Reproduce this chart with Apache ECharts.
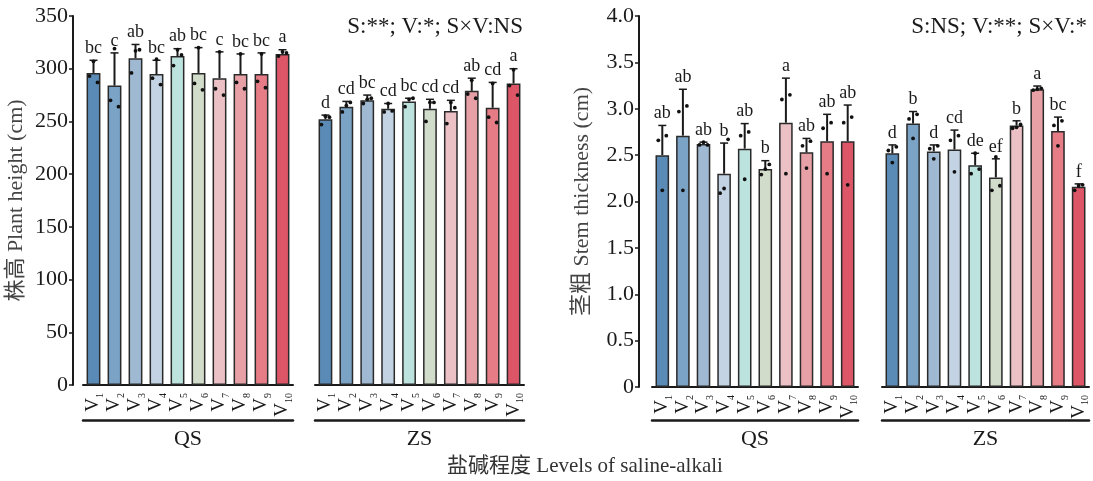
<!DOCTYPE html>
<html>
<head>
<meta charset="utf-8">
<script src="https://cdn.jsdelivr.net/npm/echarts@6.0.0/dist/echarts.min.js"></script>
<style>
  html, body { margin: 0; padding: 0; background: #fff; }
  #chart { width: 1093px; height: 481px; }
</style>
</head>
<body>
<div id="chart"></div>
<script>
// 品种 V1..V10,两种盐碱程度 QS / ZS
const CATS = ['V1', 'V2', 'V3', 'V4', 'V5', 'V6', 'V7', 'V8', 'V9', 'V10'];
const GROUPS = ['QS', 'ZS'];
const BAR_COLORS = ['#5a8bb6', '#7aa3c6', '#9fb9d3', '#c3d3e3', '#bde3df',
                    '#d2dcca', '#ecc1c6', '#e8a0a7', '#e67c86', '#dd5668'];

// 株高 Plant height (cm)
const QS_HEIGHT = [296, 284, 310, 295, 312, 296, 291, 295, 295, 314];
const QS_HEIGHT_SD = [12, 31, 13, 13, 7, 24, 25, 19, 20, 4];
const QS_HEIGHT_PTS = [[307, 293, 287], [319, 270, 264], [317, 296, 318], [309, 291, 285], [318, 303, 313],
                       [320, 286, 280], [316, 281, 275], [314, 287, 281], [314, 288, 282], [316, 312, 315]];
const QS_HEIGHT_LET = ['bc', 'c', 'ab', 'bc', 'ab', 'bc', 'c', 'bc', 'bc', 'a'];

const ZS_HEIGHT = [252, 264, 270, 262, 269, 262, 260, 279, 263, 286];
const ZS_HEIGHT_SD = [4, 5, 5, 5, 3, 9, 10, 12, 24, 14];
const ZS_HEIGHT_PTS = [[255, 247, 254], [265, 259, 268], [271, 267, 272], [267, 259, 260], [271, 264, 272],
                       [268, 250, 268], [268, 248, 263], [289, 276, 272], [286, 254, 249], [299, 284, 275]];
const ZS_HEIGHT_LET = ['d', 'cd', 'bc', 'cd', 'bc', 'cd', 'cd', 'ab', 'cd', 'a'];

// 茎粗 Stem thickness (cm)
const QS_STEM = [2.50, 2.71, 2.62, 2.30, 2.57, 2.35, 2.85, 2.53, 2.65, 2.65];
const QS_STEM_SD = [0.32, 0.50, 0.02, 0.33, 0.27, 0.09, 0.48, 0.15, 0.29, 0.39];
const QS_STEM_PTS = [[2.12, 2.66, 2.71], [2.12, 2.97, 3.03], [2.64, 2.61, 2.61], [2.14, 2.09, 2.67], [2.24, 2.71, 2.75],
                     [2.35, 2.29, 2.40], [2.30, 3.10, 3.15], [2.36, 2.60, 2.65], [2.30, 2.79, 2.85], [2.18, 2.85, 2.91]];
const QS_STEM_LET = ['ab', 'ab', 'ab', 'b', 'ab', 'b', 'a', 'ab', 'ab', 'ab'];

const ZS_STEM = [2.52, 2.84, 2.54, 2.56, 2.39, 2.26, 2.82, 3.21, 2.76, 2.16];
const ZS_STEM_SD = [0.09, 0.13, 0.07, 0.21, 0.13, 0.20, 0.05, 0.035, 0.15, 0.03];
const ZS_STEM_PTS = [[2.42, 2.55, 2.59], [2.68, 2.89, 2.94], [2.46, 2.57, 2.60], [2.32, 2.66, 2.71], [2.52, 2.30, 2.35],
                     [2.48, 2.12, 2.17], [2.80, 2.79, 2.83], [3.21, 3.20, 3.22], [2.60, 2.82, 2.87], [2.17, 2.12, 2.18]];
const ZS_STEM_LET = ['d', 'b', 'd', 'cd', 'de', 'ef', 'b', 'a', 'bc', 'f'];

const SERIF = "'Liberation Serif', 'Noto Sans CJK SC', serif";
const INK = '#1a1a1a';
const JITTER = [0, -4, 4];   // 散点横向错开(px)

// 四个绘图区:左图 QS/ZS,右图 QS/ZS
const GRIDS = [
  { left: 83, top: 16, width: 210, height: 369 },
  { left: 315, top: 16, width: 209, height: 369 },
  { left: 652, top: 16, width: 206, height: 371 },
  { left: 882, top: 16, width: 207, height: 371 },
];

const PANELS = [
  { mean: QS_HEIGHT, sd: QS_HEIGHT_SD, pts: QS_HEIGHT_PTS, let: QS_HEIGHT_LET },
  { mean: ZS_HEIGHT, sd: ZS_HEIGHT_SD, pts: ZS_HEIGHT_PTS, let: ZS_HEIGHT_LET },
  { mean: QS_STEM, sd: QS_STEM_SD, pts: QS_STEM_PTS, let: QS_STEM_LET },
  { mean: ZS_STEM, sd: ZS_STEM_SD, pts: ZS_STEM_PTS, let: ZS_STEM_LET },
];

function catAxis(g) {
  return {
    type: 'category', gridIndex: g, data: CATS,
    axisLine: { lineStyle: { color: INK, width: 2 } },
    axisTick: { show: false },
    axisLabel: {
      rotate: 90, margin: 8, interval: 0,
      formatter: (v) => '{v|V}{s|' + v.slice(1) + '}',
      rich: {
        v: { fontSize: 19, fontFamily: SERIF, color: INK, lineHeight: 24 },
        s: { fontSize: 10, fontFamily: SERIF, color: INK, verticalAlign: 'bottom' },
      },
    },
  };
}
function groupAxis(g, name, offset) {
  return {
    type: 'category', gridIndex: g, data: [name], position: 'bottom', offset,
    axisLine: { lineStyle: { color: INK, width: 2.5 } },
    axisTick: { show: false },
    axisLabel: { margin: 8, fontSize: 22, fontFamily: SERIF, color: INK },
  };
}
function valAxis(g, max, interval, show, name, fmt) {
  return {
    type: 'value', gridIndex: g, min: 0, max, interval, show,
    offset: g === 0 ? 10 : 13,
    name, nameLocation: 'middle', nameGap: 46,
    nameTextStyle: { fontSize: 22, fontFamily: SERIF, color: '#444' },
    axisLine: { show: true, lineStyle: { color: INK, width: 2 } },
    axisTick: { show: true, length: 4, lineStyle: { color: INK, width: 1.5 } },
    axisLabel: { margin: 5, fontSize: 22, fontFamily: SERIF, color: INK, formatter: fmt },
    splitLine: { show: false },
  };
}

const series = [];
PANELS.forEach((p, g) => {
  series.push({
    type: 'bar', xAxisIndex: g, yAxisIndex: g, barWidth: '66%',
    data: p.mean.map((v, i) => ({ value: v, itemStyle: { color: BAR_COLORS[i] } })),
    itemStyle: { borderColor: '#2a2a2a', borderWidth: 1.5 },
    silent: true, z: 2,
  });
  // 误差线(只画上半)+ 显著性字母
  series.push({
    type: 'custom', xAxisIndex: g, yAxisIndex: g, z: 4, silent: true,
    data: p.mean.map((m, i) => [i, m, p.sd[i]]),
    renderItem: (params, api) => {
      const i = api.value(0);
      const a = api.coord([i, api.value(1)]);
      const b = api.coord([i, api.value(1) + api.value(2)]);
      return { type: 'group', children: [
        { type: 'line', shape: { x1: a[0], y1: a[1], x2: b[0], y2: b[1] }, style: { stroke: INK, lineWidth: 2 } },
        { type: 'line', shape: { x1: b[0] - 4, y1: b[1], x2: b[0] + 4, y2: b[1] }, style: { stroke: INK, lineWidth: 1.5 } },
        { type: 'text', x: b[0], y: b[1] - 3,
          style: { text: p.let[i], align: 'center', verticalAlign: 'bottom', fontSize: 18, fontFamily: SERIF, fill: INK } },
      ] };
    },
  });
  // 重复测量散点
  const pd = [];
  p.pts.forEach((arr, i) => arr.forEach((v, j) => pd.push([i, v, j])));
  series.push({
    type: 'custom', xAxisIndex: g, yAxisIndex: g, z: 5, silent: true,
    data: pd,
    renderItem: (params, api) => {
      const c = api.coord([api.value(0), api.value(1)]);
      return { type: 'circle', shape: { cx: c[0] + JITTER[api.value(2)], cy: c[1], r: 1.9 }, style: { fill: '#111' } };
    },
  });
});

const chart = echarts.init(document.getElementById('chart'));
chart.setOption({
  animation: false,
  grid: GRIDS.map((g) => Object.assign({ outerBoundsMode: 'none', containLabel: false }, g)),
  xAxis: [
    catAxis(0), catAxis(1), catAxis(2), catAxis(3),
    groupAxis(0, GROUPS[0], 35), groupAxis(1, GROUPS[1], 35),
    groupAxis(2, GROUPS[0], 33), groupAxis(3, GROUPS[1], 33),
  ],
  yAxis: [
    valAxis(0, 350, 50, true, '株高 Plant height (cm)'),
    valAxis(1, 350, 50, false),
    valAxis(2, 4, 0.5, true, '茎粗 Stem thickness (cm)', (v) => (v === 0 ? '0' : v.toFixed(1))),
    valAxis(3, 4, 0.5, false),
  ],
  graphic: [
    { type: 'text', x: 523, y: 27, style: { text: 'S:**; V:*; S×V:NS', align: 'right', verticalAlign: 'middle', fontSize: 23, fontFamily: SERIF, fill: INK } },
    { type: 'text', x: 1087, y: 27, style: { text: 'S:NS; V:**; S×V:*', align: 'right', verticalAlign: 'middle', fontSize: 23, fontFamily: SERIF, fill: INK } },
    { type: 'text', x: 585, y: 466, style: { text: '盐碱程度 Levels of saline-alkali', align: 'center', verticalAlign: 'middle', fontSize: 21, fontFamily: SERIF, fill: '#333' } },
  ],
  series,
});
</script>
</body>
</html>
